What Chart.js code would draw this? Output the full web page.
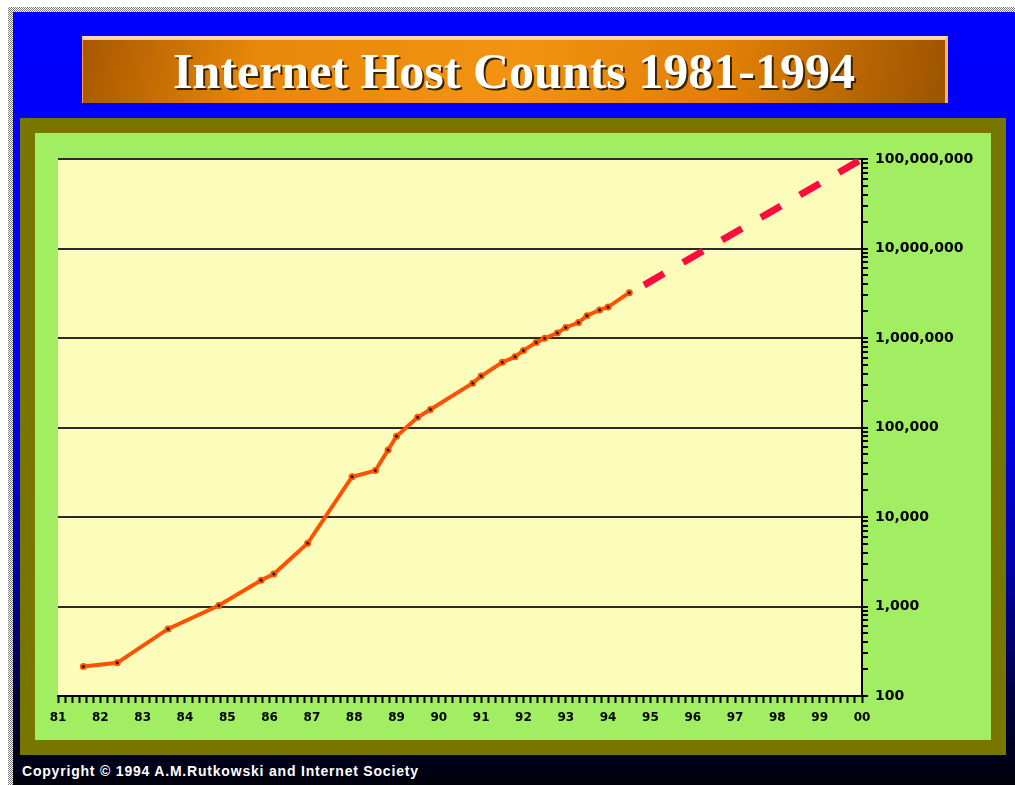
<!DOCTYPE html>
<html>
<head>
<meta charset="utf-8">
<title>Internet Host Counts 1981-1994</title>
<script src="https://cdn.jsdelivr.net/npm/chart.js@4.4.1/dist/chart.umd.min.js"></script>
<style>
body { margin:0; background:#ffffff; width:1015px; height:785px; overflow:hidden; position:relative; }
#checker { position:absolute; left:8px; top:7px; width:1007px; height:778px;
  background:repeating-conic-gradient(#7a7a7a 0 25%, #ffffff 0 50%) 0 0/2px 2px; }
#bg { position:absolute; left:13px; top:12px; right:0; bottom:0;
  background:linear-gradient(#0000ff 0%, #0000f4 50%, #0000a8 72%, #000038 90%, #00000c 100%); }
#titlebox { position:absolute; left:82px; top:36px; width:862px; height:63px;
  border-top:4px solid #ffd7aa; border-right:3px solid #ffb060; border-left:1px solid #f0a050;
  background:linear-gradient(100deg, #a85800 0%, #e8870a 20%, #f29312 50%, #e07e06 75%, #9c5400 100%);
  text-align:center; }
#titlebox span { display:inline-block; font-family:"Liberation Serif","Times New Roman",serif; font-weight:bold;
  font-size:50px; line-height:63px; color:#ffffff; text-shadow:2px 2px 0 #3a2200; }
#olive { position:absolute; left:20px; top:118px; width:986px; height:637px; background:#777700; }
#green { position:absolute; left:35px; top:133px; width:956px; height:607px; background:#a2ee62; }
#copy { position:absolute; left:22px; top:763px; font-family:"Liberation Sans",Arial,sans-serif; font-weight:bold;
  font-size:14px; letter-spacing:0.8px; color:#ffffff; }
#chart { position:absolute; left:0; top:0; }
</style>
</head>
<body>
<div id="checker"></div>
<div id="bg"></div>
<div id="titlebox"><span>Internet Host Counts 1981-1994</span></div>
<div id="olive"></div>
<div id="green"></div>
<div id="copy">Copyright © 1994 A.M.Rutkowski and Internet Society</div>
<canvas id="chart" width="1015" height="785"></canvas>
<script>
// survey dates (decimal years) and host counts
var hostDates = [1981.6, 1982.4, 1983.6, 1984.8, 1985.8, 1986.1, 1986.9, 1987.95, 1988.5, 1988.8,
  1989.0, 1989.5, 1989.8, 1990.8, 1991.0, 1991.5, 1991.8, 1992.0, 1992.3, 1992.5,
  1992.8, 1993.0, 1993.3, 1993.5, 1993.8, 1994.0, 1994.5];
var hostCounts = [213, 235, 562, 1024, 1961, 2308, 5089, 28174, 33000, 56000,
  80000, 130000, 159000, 313000, 376000, 535000, 617000, 727000, 890000, 992000,
  1136000, 1313000, 1486000, 1776000, 2056000, 2217000, 3212000];

// dashed projection to 2000
var projDates = [1994.85, 2000.0];
var projCounts = [3900000, 100000000];

// axis ranges and labels
var yearMin = 1981;
var yearMax = 2000;
var countTicks = [100, 1000, 10000, 100000, 1000000, 10000000, 100000000];
var countLabels = ['100', '1,000', '10,000', '100,000', '1,000,000', '10,000,000', '100,000,000'];

function toPoints(xs, ys){
	var pts = [];
	for(var i=0; i<xs.length; i++){
		pts.push({x: xs[i], y: ys[i]});
	}
	return pts;
}

function isYear(v){
	return Math.abs(v - Math.round(v)) < 1e-6;
}

// yellow plot area
var plotBg = {
	id: 'plotBg',
	beforeDraw: function(chart){
		var a = chart.chartArea;
		var ctx = chart.ctx;
		ctx.save();
		ctx.fillStyle = '#fdfdbb';
		ctx.fillRect(a.left, a.top, a.right - a.left, a.bottom - a.top);
		ctx.restore();
	}
};

function draw_chart(){
	var ctx = document.getElementById('chart').getContext('2d');
	Chart.defaults.font.family = '"DejaVu Sans", sans-serif';
	Chart.defaults.color = '#000000';

	var data = {};
	data.datasets = [];
	data.datasets.push({
		label: 'Hosts',
		data: toPoints(hostDates, hostCounts),
		borderColor: '#ff5200',
		borderWidth: 4,
		pointRadius: 2.5,
		pointBackgroundColor: '#1a1a1a',
		pointBorderColor: '#ff5200',
		pointBorderWidth: 2,
		tension: 0
	});
	data.datasets.push({
		label: 'Projection',
		data: toPoints(projDates, projCounts),
		borderColor: '#ff0c3e',
		borderWidth: 7,
		borderDash: [23, 22],
		borderCapStyle: 'butt',
		pointRadius: 0,
		tension: 0
	});

	var opts = {
		responsive: false,
		animation: false,
		layout: { padding: { left: 58, top: 159, right: 0, bottom: 0 } },
		plugins: { legend: { display: false }, tooltip: { enabled: false } },
		scales: {
			x: {
				type: 'linear',
				min: yearMin,
				max: yearMax,
				afterBuildTicks: function(scale){
					var t = [];
					for(var k=0; k<=(yearMax - yearMin)*6; k++){
						t.push({value: yearMin + k/6});
					}
					scale.ticks = t;
				},
				afterFit: function(scale){ scale.height = 89; },
				ticks: {
					autoSkip: false,
					maxRotation: 0,
					padding: 8,
					font: { size: 12, weight: 'bold' },
					callback: function(v){
						if(!isYear(v)) return '';
						var y = Math.round(v) % 100;
						return (y < 10 ? '0' : '') + y;
					}
				},
				grid: {
					drawOnChartArea: false,
					tickLength: 7,
					tickColor: '#000000',
					tickWidth: 2
				},
				border: { color: '#000000', width: 2 }
			},
			y: {
				type: 'logarithmic',
				position: 'right',
				min: 100,
				max: 100000000,
				afterBuildTicks: function(scale){
					var t = [];
					for(var i=0; i<countTicks.length; i++){
						t.push({value: countTicks[i], major: true});
						if(i < countTicks.length - 1){
							for(var m=2; m<=9; m++){
								t.push({value: countTicks[i]*m, major: false});
							}
						}
					}
					scale.ticks = t;
				},
				afterFit: function(scale){ scale.width = 153; },
				ticks: {
					autoSkip: false,
					padding: 7,
					font: { size: 14, weight: 'bold' },
					callback: function(v){
						var i = countTicks.indexOf(v);
						return i >= 0 ? countLabels[i] : '';
					}
				},
				grid: {
					color: function(c){
						return (c.tick && countTicks.indexOf(c.tick.value) >= 0) ? '#2a2a2a' : 'rgba(0,0,0,0)';
					},
					lineWidth: 2,
					tickColor: '#000000',
					tickWidth: 2,
					tickLength: 6
				},
				border: { color: '#000000', width: 2 }
			}
		}
	};

	var chart = new Chart(ctx, { type: 'line', data: data, options: opts, plugins: [plotBg] });
}

draw_chart();
</script>
</body>
</html>
